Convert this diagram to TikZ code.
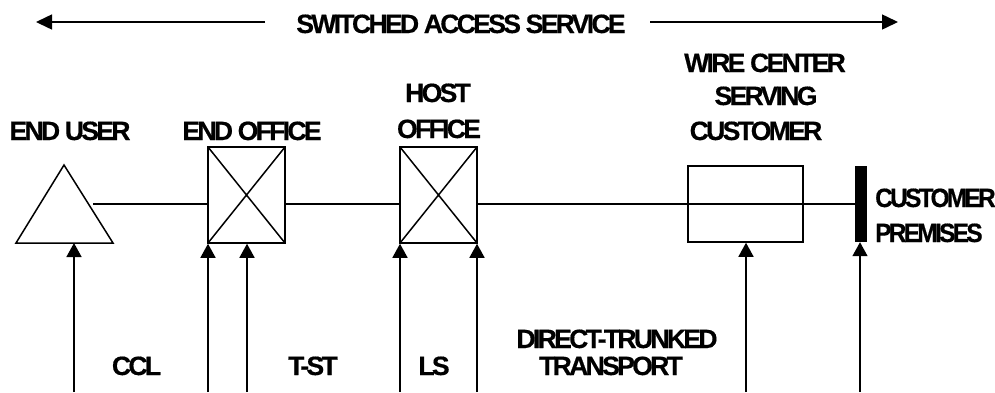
\documentclass[tikz,border=0pt]{standalone}
\usepackage{fontspec}
\newfontfamily\lblfont{Liberation Sans}[LetterSpace=-10,FakeBold=0.5]
\newfontfamily\lblnarrowfont{Liberation Sans}[FakeStretch=0.92,LetterSpace=-10,FakeBold=0.5]
\usetikzlibrary{arrows.meta}
\begin{document}
\begin{tikzpicture}[x=1pt,y=-1pt,
  lbl/.style={font=\lblfont\bfseries\fontsize{26.5}{32}\selectfont, inner sep=0pt, anchor=base},
  lblw/.style={font=\lblnarrowfont\bfseries\fontsize{26.5}{32}\selectfont, inner sep=0pt, anchor=base west},
  ln/.style={line width=1.5pt},
  office/.style={draw, line width=1.5pt, minimum width=77pt, minimum height=96pt, inner sep=0pt,
    path picture={\draw[line width=1.5pt] (path picture bounding box.north west)--(path picture bounding box.south east)
      (path picture bounding box.north east)--(path picture bounding box.south west);}},
  wcbox/.style={draw, line width=1.5pt, minimum width=115pt, minimum height=76pt, inner sep=0pt},
  barbox/.style={fill=black, minimum width=12pt, minimum height=76pt, inner sep=0pt},
  up/.style={line width=1.5pt, -{Triangle[length=14pt,width=15pt]}},
  span/.style={line width=1.5pt, -{Triangle[length=16pt,width=15pt]}},
]
\useasboundingbox (0,0) rectangle (995,392);

% title
\node[lbl] (title) at (461,33) {SWITCHED ACCESS SERVICE};
\coordinate (tls) at (265,22);
\coordinate (tl) at (36,22);
\coordinate (trs) at (650,22);
\coordinate (tr) at (898,22);
\draw[span] (tls) -- (tl);
\draw[span] (trs) -- (tr);

% labels above
\node[lbl] (lEU) at (70,140) {END USER};
\node[lbl] (lEO) at (252,140) {END OFFICE};
\node[lbl] (lH1) at (438,102) {HOST};
\node[lbl] (lH2) at (439,138) {OFFICE};
\node[lbl] (lW1) at (765,72) {WIRE CENTER};
\node[lbl] (lW2) at (766,105) {SERVING};
\node[lbl] (lW3) at (756,140) {CUSTOMER};
\node[lblw] (lP1) at (875,207) {CUSTOMER};
\node[lblw] (lP2) at (875,242) {PREMISES};

% shapes
\draw[ln, line join=miter] (64,165) -- (16,243) -- (113,243) -- cycle;
\coordinate (euR) at (93,204);
\node[office] (eo) at (246.5,195) {};
\node[office] (ho) at (438.5,195) {};
\node[wcbox] (wc) at (745.5,204) {};
\node[barbox] (bar) at (861,204) {};

% trunk
\draw[ln] (euR) -- (eo.west |- euR);
\draw[ln] (eo.east |- euR) -- (ho.west |- euR);
\draw[ln] (ho.east |- euR) -- (bar.west);

% bottom arrows
\coordinate (b1) at (74,392);
\coordinate (t1) at (74,243);
\coordinate (b2) at (208,392);
\coordinate (b3) at (247,392);
\coordinate (b4) at (400,392);
\coordinate (b5) at (477,392);
\coordinate (b6) at (746,392);
\coordinate (b7) at (860,392);
\draw[up] (b1) -- (t1);
\draw[up] (b2) -- (b2 |- eo.south);
\draw[up] (b3) -- (b3 |- eo.south);
\draw[up] (b4) -- (b4 |- ho.south);
\draw[up] (b5) -- (b5 |- ho.south);
\draw[up] (b6) -- (b6 |- wc.south);
\draw[up] (b7) -- (b7 |- bar.south);

% labels below
\node[lbl] (lCCL) at (136.5,375) {CCL};
\node[lbl] (lTST) at (313,375) {T-ST};
\node[lbl] (lLS) at (434,375) {LS};
\node[lbl] (lDT1) at (617,348) {DIRECT-TRUNKED};
\node[lbl] (lDT2) at (611,375) {TRANSPORT};
\end{tikzpicture}
\end{document}
